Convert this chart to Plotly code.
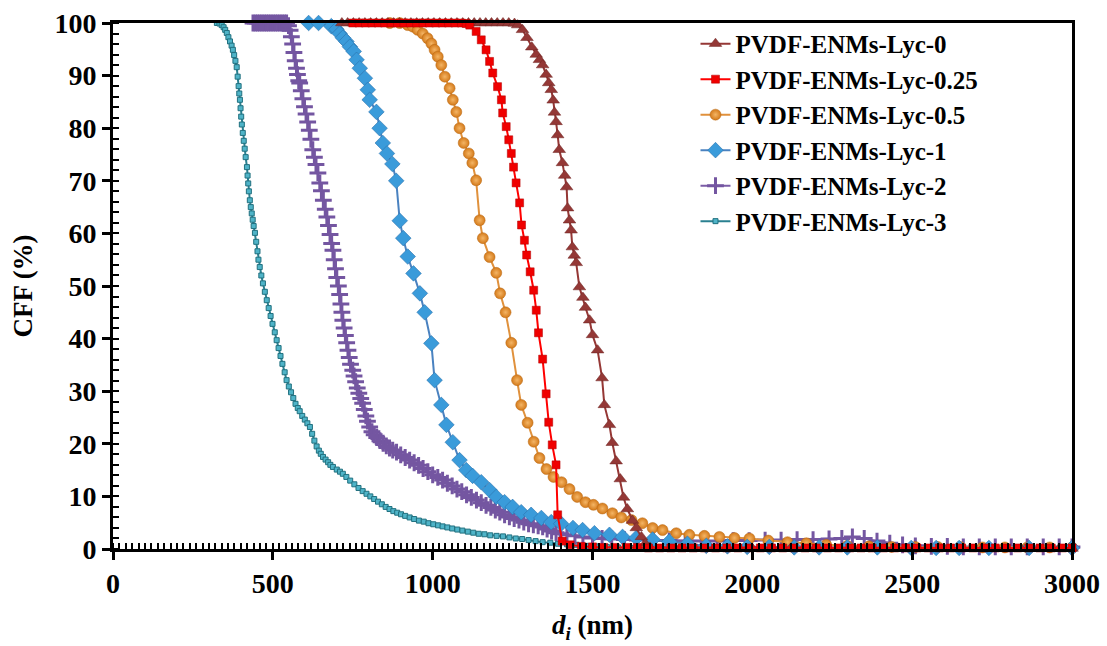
import plotly.graph_objects as go

# ---------------- data ----------------
names = ["PVDF-ENMs-Lyc-0", "PVDF-ENMs-Lyc-0.25", "PVDF-ENMs-Lyc-0.5",
         "PVDF-ENMs-Lyc-1", "PVDF-ENMs-Lyc-2", "PVDF-ENMs-Lyc-3"]

x_lyc0 = [716, 734, 752, 770, 788, 806, 824, 842, 860, 878, 896, 914, 932, 950, 968, 986,
          1004, 1022, 1040, 1058, 1076, 1094, 1112, 1130, 1148, 1166, 1184, 1202, 1220, 1238,
          1256, 1266, 1281, 1295, 1310, 1324, 1334, 1344, 1355, 1363, 1371, 1377, 1381, 1386,
          1391, 1396, 1406, 1413, 1419, 1422, 1428, 1433, 1437, 1443, 1449, 1459, 1470, 1478,
          1491, 1500, 1516, 1530, 1537, 1553, 1562, 1574, 1587, 1597, 1609, 1625, 1637, 1653,
          1665, 1680, 1760, 1880, 2000, 2120, 2240, 2360, 2480, 2600, 2720, 2840, 2960, 3000]
y_lyc0 = [100, 100, 100, 100, 100, 100, 100, 100, 100, 100, 100, 100, 100, 100, 100, 100,
          100, 100, 100, 100, 100, 100, 100, 100, 100, 100, 100, 100, 100, 100,
          99.9, 99.6, 98.7, 97.2, 95.4, 94.0, 93.0, 92.0, 90.2, 88.6, 87.3, 85.3, 83.0, 81.2,
          78.7, 75.9, 73.4, 71.0, 68.8, 64.8, 62.5, 60.6, 57.4, 55.8, 54.4, 49.8, 47.8, 45.9,
          43.5, 40.7, 37.8, 32.5, 27.4, 23.6, 20.2, 16.7, 13.3, 9.8, 7.6, 5.4, 4.0, 2.3,
          1.0, 0.3, 0.1, 0.1, 0.1, 0.1, 0.1, 0.1, 0.1, 0.1, 0.1, 0.1, 0.1, 0.1]

x_lyc025 = [750, 770, 790, 810, 830, 850, 870, 890, 910, 930, 950, 970, 990, 1010, 1030, 1050,
            1070, 1090, 1105, 1116, 1136, 1152, 1167, 1178, 1188, 1203, 1215, 1219, 1230, 1238,
            1246, 1253, 1261, 1272, 1278, 1287, 1294, 1305, 1316, 1324, 1331, 1344, 1355, 1363,
            1374, 1386, 1391, 1405, 1430, 1465, 1500, 1535, 1570, 1605, 1640, 1675, 1710, 1745,
            1780, 1815, 1850, 1885, 1920, 1955, 1990, 2025, 2060, 2095, 2130, 2165, 2200, 2235,
            2270, 2305, 2340, 2375, 2410, 2445, 2480, 2515, 2550, 2585, 2620, 2655, 2690, 2725,
            2760, 2795, 2830, 2865, 2900, 2935, 2970, 3000]
y_lyc025 = [100, 100, 100, 100, 100, 100, 100, 100, 100, 100, 100, 100, 100, 100, 100, 100,
            100, 100, 99.9, 99.6, 98.4, 96.8, 94.9, 92.7, 90.5, 87.9, 85.4, 82.9, 80.3, 77.8,
            75.2, 72.6, 69.6, 65.8, 61.6, 58.7, 55.9, 52.7, 49.2, 45.4, 41.1, 36.1, 29.5, 24.1,
            19.8, 16.0, 6.5, 1.5, 0.8, 0.5, 0.4, 0.3, 0.3, 0.3, 0.3, 0.2, 0.2, 0.2,
            0.2, 0.2, 0.2, 0.2, 0.2, 0.2, 0.2, 0.2, 0.2, 0.2, 0.2, 0.2, 0.2, 0.2,
            0.2, 0.2, 0.2, 0.2, 0.2, 0.2, 0.2, 0.2, 0.2, 0.2, 0.2, 0.2, 0.2, 0.2,
            0.2, 0.2, 0.2, 0.2, 0.2, 0.2, 0.2, 0.2]

x_lyc05 = [866, 897, 922, 938, 953, 969, 984, 996, 1006, 1016, 1027, 1038, 1053, 1063, 1074,
           1084, 1097, 1113, 1124, 1136, 1147, 1157, 1178, 1199, 1211, 1228, 1246, 1264, 1277,
           1297, 1316, 1334, 1356, 1378, 1403, 1428, 1452, 1478, 1503, 1531, 1562, 1590, 1622,
           1656, 1688, 1719, 1762, 1803, 1850, 1897, 1944, 1991, 2050, 2110, 2169, 2231, 2297,
           2365, 2435, 2510, 2580, 2650, 2720, 2790, 2860, 2930, 3000]
y_lyc05 = [100, 100, 99.6, 99.3, 98.7, 98.0, 97.1, 96.1, 94.9, 93.6, 92.0, 89.8, 87.6, 85.4, 83.1,
           80.0, 77.2, 75.2, 73.4, 70.1, 62.5, 59.1, 55.5, 52.5, 48.6, 45.0, 39.2, 32.1, 27.4,
           24.0, 20.4, 17.3, 15.2, 13.7, 12.7, 11.4, 9.9, 8.9, 8.4, 7.7, 6.8, 6.0, 5.5,
           4.9, 4.0, 3.6, 3.0, 2.7, 2.5, 2.3, 2.1, 2.0, 1.6, 1.3, 1.1, 0.8, 0.6,
           0.5, 0.4, 0.4, 0.4, 0.4, 0.3, 0.3, 0.3, 0.3, 0.3]

x_lyc1 = [612, 643, 683, 699, 709, 719, 730, 741, 753, 762, 772, 788, 797, 803, 824, 834, 844,
          857, 874, 886, 897, 908, 922, 940, 960, 975, 996, 1006, 1027, 1043, 1063, 1084, 1105,
          1125, 1152, 1178, 1199, 1225, 1250, 1277, 1308, 1340, 1371, 1402, 1439, 1469, 1506,
          1553, 1594, 1637, 1688, 1740, 1797, 1856, 1922, 1984, 2053, 2131, 2209, 2297, 2391,
          2497, 2575, 2647, 2740, 2866, 3000]
y_lyc1 = [100, 100, 99.4, 98.8, 98.0, 97.2, 96.5, 95.5, 94.6, 93.0, 91.4, 89.5, 87.3, 85.4, 83.1,
          80.0, 77.2, 75.2, 73.2, 70.0, 62.4, 59.1, 55.6, 52.4, 48.6, 45.0, 39.1, 32.1, 27.4,
          23.6, 20.3, 16.9, 15.0, 13.9, 12.7, 11.2, 9.9, 8.9, 8.0, 7.0, 6.5, 5.9, 5.1, 4.8,
          4.0, 3.6, 3.0, 2.7, 2.3, 2.1, 1.8, 1.4, 1.0, 0.6, 0.5, 0.4, 0.4, 0.3, 0.3, 0.3,
          0.3, 0.2, 0.2, 0.2, 0.2, 0.2, 0.2]

x_lyc2 = [438, 445, 452, 459, 466, 473, 480, 487, 494, 501, 508, 515, 522, 529, 536, 543,
          549, 554, 558, 562, 566, 570, 574, 577, 581, 584, 589, 594, 599, 604, 609, 614, 619,
          625, 630, 635, 641, 647, 652, 658, 664, 669, 674, 679, 684, 688, 692, 696, 700, 705,
          709, 713, 716, 719, 723, 727, 731, 735, 739, 743, 750, 754, 759, 764, 769, 775, 781,
          786, 791, 796, 803, 810, 817, 825, 835, 845, 855, 865, 875, 887, 900, 914, 928, 942,
          956, 970, 985, 1000, 1016, 1031, 1046, 1061, 1076, 1091, 1106, 1121, 1137, 1152, 1167,
          1182, 1196, 1210, 1225, 1240, 1255, 1270, 1285, 1300, 1315, 1330, 1344, 1358, 1372,
          1386, 1400, 1420, 1445, 1470, 1500, 1530, 1560, 1600, 1640, 1690, 1740, 1790, 1840,
          1890, 1940, 1990, 2040, 2090, 2140, 2190, 2240, 2280, 2313, 2350, 2390, 2430, 2470,
          2510, 2560, 2610, 2660, 2710, 2760, 2810, 2860, 2910, 2960, 3000]
y_lyc2 = [100, 100, 100, 100, 100, 100, 100, 100, 100, 100, 100, 100, 100, 100, 100, 100,
          99.5, 98.6, 97.4, 96.0, 94.4, 92.8, 91.4, 90.2, 89.0, 88.6, 87.1, 85.6, 84.1, 82.7,
          81.2, 79.6, 77.9, 75.9, 74.5, 73.1, 71.5, 69.6, 68.1, 66.3, 64.6, 63.1, 61.5, 59.8,
          58.1, 56.8, 55.0, 53.3, 51.6, 50.0, 48.4, 46.6, 45.0, 43.5, 42.0, 40.6, 39.2, 37.8,
          36.4, 35.1, 34.0, 32.9, 31.8, 30.6, 29.6, 28.6, 27.7, 26.5, 25.3, 24.3, 23.2, 22.3,
          21.7, 21.2, 20.6, 20.1, 19.6, 19.2, 18.8, 18.4, 17.9, 17.4, 16.9, 16.4, 15.9, 15.3,
          14.7, 14.1, 13.6, 13.1, 12.5, 12.0, 11.4, 10.9, 10.3, 9.8, 9.3, 8.8, 8.3, 7.9, 7.4,
          7.0, 6.5, 6.1, 5.8, 5.5, 5.1, 4.8, 4.6, 4.4, 4.2, 3.8, 3.4, 3.1, 2.9, 2.7, 2.5, 2.3,
          2.1, 2.0, 1.9, 1.8, 1.7, 1.6, 1.6, 1.5, 1.5, 1.5, 1.6, 1.6, 1.7, 1.7, 1.8, 1.8, 1.9,
          2.0, 2.3, 2.0, 1.5, 1.1, 0.8, 0.6, 0.5, 0.5, 0.4, 0.4, 0.4, 0.4, 0.4, 0.4, 0.4, 0.4]

x_lyc3 = [325, 333, 340, 346, 351, 356, 361, 366, 371, 375, 379, 383, 387, 390, 393, 395, 397,
          399, 401, 403, 406, 409, 412, 415, 419, 421, 423, 425, 428, 431, 434, 437, 440, 444,
          448, 452, 455, 459, 464, 469, 475, 481, 487, 493, 499, 506, 512, 518, 524, 530, 537,
          543, 550, 557, 564, 571, 578, 584, 592, 600, 608, 616, 623, 630, 637, 644, 650, 657,
          665, 673, 680, 688, 700, 710, 719, 730, 742, 755, 768, 781, 793, 805, 817, 829, 841,
          853, 865, 877, 889, 901, 914, 928, 942, 957, 972, 987, 1002, 1017, 1031, 1046, 1061,
          1077, 1093, 1110, 1127, 1144, 1162, 1180, 1200, 1220, 1240, 1260, 1280, 1300, 1322,
          1344, 1368, 1392, 1420, 1450, 1480, 1510, 1545, 1580, 1620, 1670, 1720, 1775, 1830,
          1885, 1940, 1995, 2050, 2105, 2160, 2215, 2270, 2325, 2380, 2435, 2490, 2545, 2600,
          2655, 2710, 2765, 2820, 2875, 2930, 2985]
y_lyc3 = [100, 99.9, 99.6, 99.2, 98.7, 98.1, 97.3, 96.5, 95.7, 94.9, 93.9, 92.8, 91.6, 89.8,
          88.0, 86.6, 85.4, 83.8, 82.2, 80.7, 79.1, 77.6, 76.1, 74.5, 72.6, 71.0, 69.5, 68.0,
          66.3, 65.0, 63.8, 62.6, 61.4, 60.1, 58.4, 56.6, 55.0, 53.6, 52.0, 50.5, 48.9, 47.3,
          45.8, 44.3, 42.8, 41.2, 39.7, 38.2, 36.7, 35.2, 33.6, 32.1, 30.9, 29.8, 28.7, 27.6,
          26.8, 26.2, 25.3, 24.6, 23.9, 23.2, 21.9, 20.6, 19.5, 18.7, 18.1, 17.5, 17.0, 16.5,
          16.0, 15.6, 15.1, 14.7, 14.3, 13.7, 13.0, 12.3, 11.6, 11.0, 10.5, 10.0, 9.5, 9.0,
          8.5, 8.0, 7.6, 7.2, 6.9, 6.6, 6.3, 6.0, 5.7, 5.4, 5.2, 4.9, 4.7, 4.5, 4.3, 4.1, 3.9,
          3.7, 3.5, 3.3, 3.1, 2.9, 2.8, 2.6, 2.5, 2.4, 2.2, 2.0, 1.9, 1.7, 1.5, 1.3, 1.2, 1.0,
          0.9, 0.8, 0.6, 0.5, 0.4, 0.3, 0.2, 0.1, 0.1, 0.1, 0.1, 0.1, 0.1, 0.1, 0.1, 0.1, 0.1,
          0.1, 0.1, 0.1, 0.1, 0.1, 0.1, 0.1, 0.1, 0.1, 0.1, 0.1, 0.1, 0.1, 0.1, 0.1]

x_ticks = [0, 500, 1000, 1500, 2000, 2500, 3000]
y_ticks = [0, 10, 20, 30, 40, 50, 60, 70, 80, 90, 100]

# ---------------- figure ----------------
FONT = "Liberation Serif"
fig = go.Figure()

# drawing order (bottom -> top): Lyc-3, Lyc-2, Lyc-0.5, Lyc-1, Lyc-0, Lyc-0.25
fig.add_trace(go.Scatter(
    x=x_lyc3, y=y_lyc3, name=names[5], legendrank=6, mode="lines+markers",
    line=dict(color="#2A8090", width=2),
    marker=dict(symbol="square", size=5, color="#4FB4C8", line=dict(color="#21707F", width=1))))
fig.add_trace(go.Scatter(
    x=x_lyc2, y=y_lyc2, name=names[4], legendrank=5, mode="lines+markers",
    line=dict(color="#7B5CA6", width=2),
    marker=dict(symbol="cross-thin", size=12, color="#7B5CA6", line=dict(color="#7456A1", width=3))))
fig.add_trace(go.Scatter(
    x=x_lyc05, y=y_lyc05, name=names[2], legendrank=3, mode="lines+markers",
    line=dict(color="#E0913C", width=2),
    marker=dict(symbol="circle", size=11, color="#D47A1A",
                gradient=dict(type="radial", color="#F4B565"),
                line=dict(color="#B86814", width=0.5))))
fig.add_trace(go.Scatter(
    x=x_lyc1, y=y_lyc1, name=names[3], legendrank=4, mode="lines+markers",
    line=dict(color="#4A82C0", width=2),
    marker=dict(symbol="diamond", size=12, color="#3A9BDA",
                line=dict(color="#2C72AD", width=0.6))))
fig.add_trace(go.Scatter(
    x=x_lyc0, y=y_lyc0, name=names[0], legendrank=1, mode="lines+markers",
    line=dict(color="#953735", width=2),
    marker=dict(symbol="triangle-up", size=11, color="#943836",
                line=dict(color="#6E2422", width=0.5))))
fig.add_trace(go.Scatter(
    x=x_lyc025, y=y_lyc025, name=names[1], legendrank=2, mode="lines+markers",
    line=dict(color="#FF0000", width=2),
    marker=dict(symbol="square", size=8, color="#F00000",
                line=dict(color="#B00000", width=0.5))))

fig.update_traces(cliponaxis=False)

axis_common = dict(
    showgrid=False, zeroline=False, showline=True, linecolor="black", linewidth=3,
    mirror=True, ticks="outside", ticklen=8, tickwidth=3, tickcolor="black",
    automargin=False,
    tickfont=dict(family=FONT, size=28, color="black", weight="bold"),
)

fig.update_xaxes(
    range=[0, 3000], tickmode="array", tickvals=x_ticks, ticktext=[str(v) for v in x_ticks],
    ticklabelstandoff=-1,
    minor=dict(ticks="inside", dtick=20, tick0=0, ticklen=6, tickwidth=2, tickcolor="black",
               showgrid=False),
    title=dict(text="<i>d<sub>i</sub></i> (nm)", standoff=18,
               font=dict(family=FONT, size=27, color="black", weight="bold")),
    **axis_common)

fig.update_yaxes(
    range=[0, 100], tickmode="array", tickvals=y_ticks, ticktext=[str(v) for v in y_ticks],
    minor=dict(ticks="inside", dtick=2, tick0=0, ticklen=6, tickwidth=2, tickcolor="black",
               showgrid=False),
    title=dict(text="CFF (%)", standoff=14,
               font=dict(family=FONT, size=27, color="black", weight="bold")),
    **axis_common)

fig.update_layout(
    width=1107, height=646,
    margin=dict(l=113, r=35, t=23, b=97),
    paper_bgcolor="white", plot_bgcolor="white",
    showlegend=True,
    legend=dict(x=0.6074, y=1.004, xanchor="left", yanchor="top",
                bgcolor="rgba(0,0,0,0)", borderwidth=0,
                font=dict(family=FONT, size=25, color="black", weight="bold")),
)

fig.write_html("out.html", config={"displayModeBar": False},
               post_script="document.body.style.margin='0px';document.body.style.overflow='hidden';")
